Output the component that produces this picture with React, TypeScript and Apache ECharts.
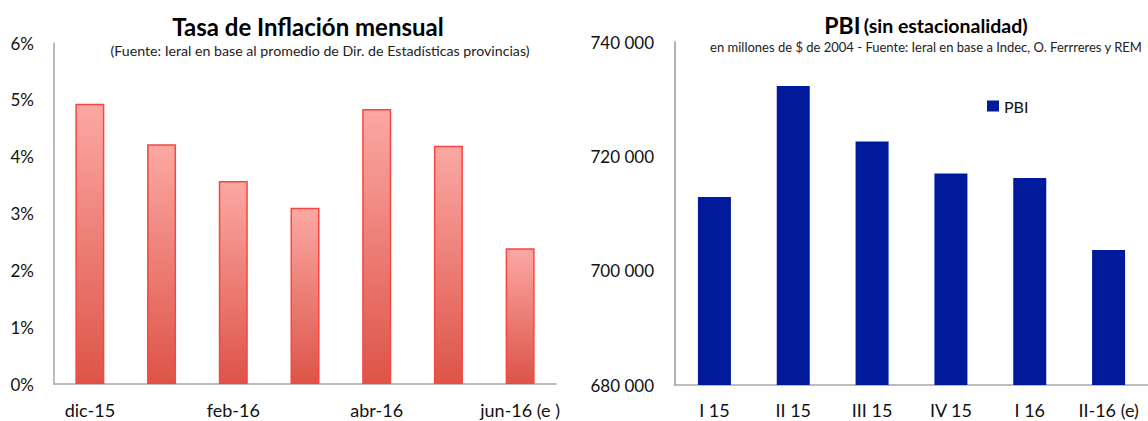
import React, { useEffect, useRef } from "react";
import * as echarts from "echarts";

const inflCategories = ["dic-15", "ene-16", "feb-16", "mar-16", "abr-16", "may-16", "jun-16 (e )"];
const inflValues = [4.93, 4.22, 3.57, 3.1, 4.84, 4.19, 2.39];
const inflTicks = [0, 1, 2, 3, 4, 5, 6];

const pbiCategories = ["I 15", "II 15", "III 15", "IV 15", "I 16", "II-16 (e)"];
const pbiValues = [712900, 732300, 722600, 717000, 716200, 703600];
const pbiTicks = [680000, 700000, 720000, 740000];

const FONT = "Lato, 'Open Sans', sans-serif";

export default function App() {
  const ref = useRef<HTMLDivElement>(null);
  useEffect(() => {
    if (!ref.current) return;
    const chart = echarts.init(ref.current, undefined, { renderer: "svg" });
    const fmtThousands = (v: number) =>
      String(Math.round(v)).replace(/\B(?=(\d{3})+(?!\d))/g, " ");
    chart.setOption({
      animation: false,
      backgroundColor: "#ffffff",
      textStyle: { fontFamily: FONT },
      grid: [
        { left: 54, top: 43, width: 502, height: 341 },
        { left: 675, top: 42, width: 473, height: 343 },
      ],
      legend: {
        data: ["PBI"],
        left: 982,
        top: 93,
        itemWidth: 12,
        itemHeight: 11,
        itemGap: 5,
        icon: "rect",
        textStyle: { fontSize: 16, color: "#111", fontFamily: FONT },
      },
      xAxis: [
        {
          type: "category",
          gridIndex: 0,
          data: inflCategories,
          axisLine: { lineStyle: { color: "#a6a6a6", width: 1.5 } },
          axisTick: { show: false },
          axisLabel: {
            interval: 1,
            margin: 17,
            fontSize: 18,
            color: "#111",
            fontFamily: FONT,
          },
        },
        {
          type: "category",
          gridIndex: 1,
          data: pbiCategories,
          axisLine: { lineStyle: { color: "#a6a6a6", width: 1.5 } },
          axisTick: { show: false },
          axisLabel: {
            interval: 0,
            margin: 16,
            fontSize: 18,
            color: "#111",
            fontFamily: FONT,
          },
        },
      ],
      yAxis: [
        {
          type: "value",
          gridIndex: 0,
          min: inflTicks[0],
          max: inflTicks[inflTicks.length - 1],
          interval: 1,
          axisLine: { show: true, lineStyle: { color: "#a6a6a6", width: 1.5 } },
          axisTick: { show: false },
          splitLine: { show: false },
          axisLabel: {
            margin: 20,
            fontSize: 17,
            color: "#111",
            fontFamily: FONT,
            formatter: (v: number) => `${v}%`,
          },
        },
        {
          type: "value",
          gridIndex: 1,
          min: pbiTicks[0],
          max: pbiTicks[pbiTicks.length - 1],
          interval: 20000,
          axisLine: { show: true, lineStyle: { color: "#b3b3b3", width: 2 } },
          axisTick: { show: false },
          splitLine: { show: false },
          axisLabel: {
            margin: 21,
            fontSize: 17,
            color: "#111",
            fontFamily: FONT,
            formatter: fmtThousands,
          },
        },
      ],
      series: [
        {
          name: "Inflación",
          type: "bar",
          xAxisIndex: 0,
          yAxisIndex: 0,
          data: inflValues,
          barWidth: 29,
          itemStyle: {
            color: new echarts.graphic.LinearGradient(0, 0, 0, 1, [
              { offset: 0, color: "#fba8a3" },
              { offset: 1, color: "#dd5448" },
            ]),
            borderColor: "#f7463f",
            borderWidth: 1.5,
          },
        },
        {
          name: "PBI",
          type: "bar",
          xAxisIndex: 1,
          yAxisIndex: 1,
          data: pbiValues,
          barWidth: 33,
          itemStyle: { color: "#001a9b" },
        },
      ],
      graphic: [
        {
          type: "text",
          x: 308,
          y: 26,
          style: {
            text: "Tasa de Inflación mensual",
            fontFamily: FONT,
            fontSize: 24,
            fontWeight: "bold",
            fill: "#000",
            align: "center",
            verticalAlign: "middle",
          },
        },
        {
          type: "text",
          x: 320,
          y: 50,
          style: {
            text: "(Fuente: Ieral en base al promedio de Dir. de Estadísticas provincias)",
            fontFamily: FONT,
            fontSize: 14.2,
            fill: "#222",
            align: "center",
            verticalAlign: "middle",
          },
        },
        {
          type: "text",
          x: 926,
          y: 25,
          style: {
            text: "{a|PBI} {b|(sin estacionalidad)}",
            fontFamily: FONT,
            fill: "#000",
            align: "center",
            verticalAlign: "middle",
            rich: {
              a: { fontFamily: FONT, fontSize: 23, fontWeight: "bold", fill: "#000", color: "#000" },
              b: { fontFamily: FONT, fontSize: 19.5, fontWeight: "bold", fill: "#000", color: "#000" },
            },
          },
        },
        {
          type: "text",
          x: 926,
          y: 47,
          style: {
            text: "en millones de $ de 2004 - Fuente: Ieral en base a Indec, O. Ferrreres y REM",
            fontFamily: FONT,
            fontSize: 13,
            fill: "#222",
            align: "center",
            verticalAlign: "middle",
          },
        },
      ],
    });
    return () => chart.dispose();
  }, []);
  return (
    <div
      ref={ref}
      style={{ position: "absolute", left: 0, top: 0, width: 1148, height: 421 }}
    />
  );
}
